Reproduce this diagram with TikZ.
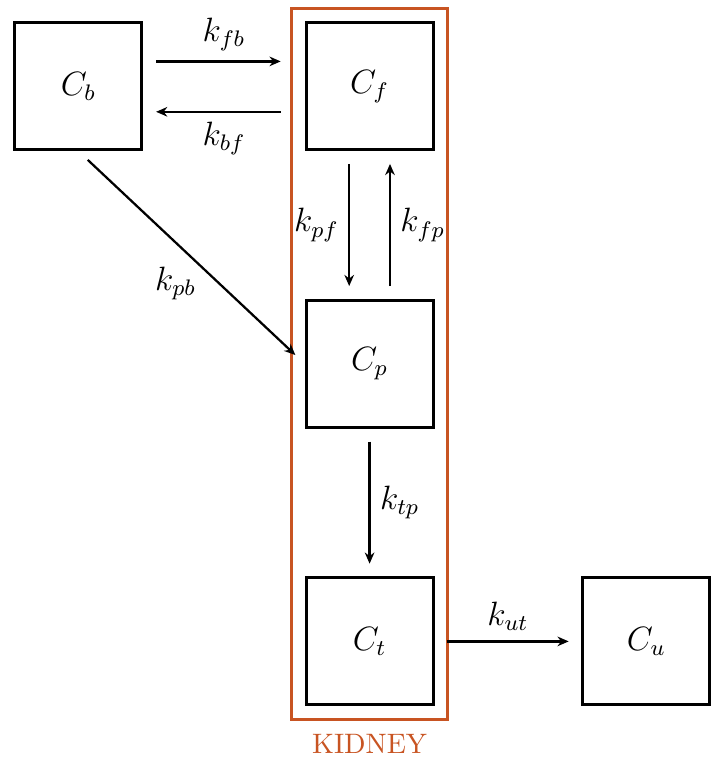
\documentclass[tikz,border=0pt]{standalone}
\usepackage{amsmath}
\usepackage{tikz}
\usetikzlibrary{fit,arrows.meta}
\definecolor{kidneyorange}{RGB}{200,84,34}
\tikzstyle{block} = [draw, line width=1pt, rectangle,
    minimum height=1.5875cm, minimum width=1.5875cm, inner sep=0pt,
    font=\large]
\tikzstyle{flow} = [-{Stealth[length=1.4mm, width=1.2mm]}, line width=0.8pt,
    shorten <=1.6mm, shorten >=1.6mm]
\tikzstyle{organ} = [draw=kidneyorange, line width=1pt, rectangle, inner sep=1.6mm]

\begin{document}
\begin{tikzpicture}[auto, node distance=3.47cm, every edge quotes/.style={}]
    \useasboundingbox (0,0) rectangle (9.05,9.4875);

    % Blood compartment
    \node [block] (Cb) at (0.98,8.41) {$C_b$};

    % Kidney compartments
    \node [block, right of=Cb, node distance=3.64cm] (Cf) {$C_f$};
    \node [block, below of=Cf] (Cp) {$C_p$};
    \node [block, below of=Cp] (Ct) {$C_t$};

    % Urine
    \node [block, right of=Ct, node distance=3.46cm] (Cu) {$C_u$};

    % Box round the kidney
    \node [organ, fit=(Cf)(Ct)] (kidney) {};
    \node [below, text=kidneyorange, yshift=-0.5mm] (kidneylabel) at (kidney.south) {KIDNEY};

    % Exchange between blood and filtrate
    \draw [flow, shorten >=3mm] ([yshift=3.1mm]Cb.east) -- node [font=\large] {$k_{fb}$} ([yshift=3.1mm]Cf.west);
    \draw [flow, shorten <=3mm] ([yshift=-3.2mm]Cf.west) -- node [font=\large] {$k_{bf}$} ([yshift=-3.2mm]Cb.east);
    \draw [flow] (Cb.south) -- node [font=\large, anchor=center, pos=0.5, xshift=-2mm, yshift=-3.3mm] {$k_{pb}$} (Cp.west);

    % Inside the kidney
    \draw [flow] ([xshift=-2.55mm]Cf.south) -- node [font=\large, swap] {$k_{pf}$} ([xshift=-2.55mm]Cp.north);
    \draw [flow] ([xshift=2.55mm]Cp.north) -- node [font=\large, swap] {$k_{fp}$} ([xshift=2.55mm]Cf.south);
    \draw [flow] (Cp.south) -- node [font=\large] {$k_{tp}$} (Ct.north);

    % Out to the urine
    \draw [flow, shorten <=1.5mm] (Ct.east) -- node [font=\large] {$k_{ut}$} (Cu.west);
\end{tikzpicture}
\end{document}
